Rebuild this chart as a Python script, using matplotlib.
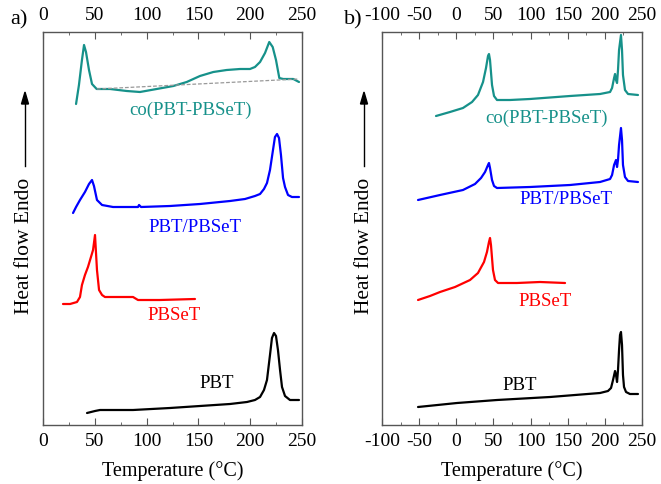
import matplotlib.pyplot as plt
from matplotlib.ticker import MultipleLocator

plt.rcParams['font.family'] = ['Liberation Serif', 'DejaVu Serif']
plt.rcParams['axes.unicode_minus'] = False

# ---- panel a: heating scans ----
a_co_T = [31.9, 34.7, 37.6, 39.6, 41.5, 44.4, 47.3, 51.8, 64.7, 80.8, 93.6, 109.7, 125.8, 138.7,
          151.5, 164.4, 177.3, 190.2, 199.8, 204.6, 209.5, 214.3, 218.4, 221.7, 224.9, 228.1,
          231.9, 241.6, 247.1]
a_co_H = [321, 340, 365, 380, 373, 355, 341, 336, 336, 334, 333, 336, 339, 343,
          349, 353, 355, 356, 356, 358, 363, 372, 383, 378, 365, 347,
          346, 346, 343]
a_co_base_T = [52.0, 247.0]
a_co_base_H = [336, 346]

a_blend_T = [29.0, 31.9, 35.7, 40.5, 44.4, 47.3, 49.2, 52.1, 57.0, 67.6, 91.7, 92.7, 94.6, 122.6,
             151.5, 180.5, 195.0, 204.6, 209.5, 213.3, 216.2, 219.1, 222.0, 223.9, 225.9, 227.8,
             229.7, 231.7, 233.6, 236.5, 240.3, 247.1]
a_blend_H = [212, 218, 225, 233, 241, 245, 239, 225, 220, 218, 218, 220, 218, 219,
             221, 224, 226, 229, 231, 236, 242, 255, 275, 288, 291, 287,
             270, 247, 238, 230, 228, 228]

a_pbset_T = [19.3, 26.1, 32.8, 35.7, 37.6, 40.5, 43.4, 46.3, 48.3, 50.2, 52.1, 54.1, 57.0, 59.8,
             86.9, 91.7, 112.9, 146.7]
a_pbset_H = [121, 121, 123, 128, 140, 150, 158, 168, 175, 190, 155, 135, 130, 128,
             128, 125, 125, 126]

a_pbt_T = [42.5, 50.2, 55.0, 86.9, 122.6, 151.5, 180.5, 196.9, 204.6, 209.5, 213.3, 216.2, 219.1,
           221.0, 223.0, 224.9, 226.8, 228.8, 230.7, 233.6, 238.4, 247.1]
a_pbt_H = [12, 14, 15, 15, 17, 19, 21, 23, 25, 28, 35, 45, 70,
           87, 92, 89, 75, 55, 38, 29, 25, 25]

# ---- panel b: second heating ----
b_co_T = [-27.3, -8.5, 9.0, 21.2, 29.2, 36.0, 40.0, 42.7, 44.0, 45.4, 48.1, 50.8, 54.8, 72.3,
          99.2, 153.1, 193.5, 207.0, 209.7, 212.4, 213.7, 215.0, 216.4, 217.7, 219.1, 221.7,
          223.1, 224.4, 227.1, 231.2, 244.6]
b_co_H = [309, 313, 317, 323, 330, 343, 357, 369, 371, 365, 340, 329, 325, 325,
          326, 329, 331, 333, 337, 347, 351, 345, 342, 355, 375, 390,
          375, 350, 335, 331, 330]

b_blend_T = [-51.5, -21.9, 9.0, 25.2, 33.3, 38.7, 42.7, 44.0, 45.4, 48.1, 50.8, 54.8, 99.2, 153.1,
             193.5, 207.0, 209.7, 212.4, 215.0, 216.4, 217.7, 219.1, 221.7, 223.1, 224.4, 227.1,
             231.2, 244.6]
b_blend_H = [225, 230, 235, 241, 247, 253, 260, 262, 257, 245, 239, 237, 238, 240,
             243, 246, 250, 260, 265, 258, 265, 280, 297, 285, 260, 248,
             244, 243]

b_pbset_T = [-51.5, -35.4, -21.9, -1.7, 18.5, 29.2, 37.3, 41.3, 44.0, 45.4, 46.7, 49.4, 52.1, 56.2,
             81.7, 112.7, 146.4]
b_pbset_H = [125, 129, 133, 138, 145, 152, 163, 173, 183, 187, 180, 155, 145, 142,
             142, 143, 142]

b_pbt_T = [-51.5, 1.0, 54.8, 126.2, 193.5, 204.2, 208.3, 211.0, 213.7, 215.0, 216.4, 217.7, 219.1,
           220.4, 221.7, 223.1, 224.4, 225.8, 228.5, 233.8, 244.6]
b_pbt_H = [18, 22, 25, 28, 32, 34, 37, 45, 54, 50, 43, 55, 75,
           90, 93, 80, 50, 38, 33, 31, 31]

TEAL = '#16918a'
BLUE = '#0000ff'
RED = '#ff0000'
SPINE = '#555555'

fig = plt.figure(figsize=(6.61, 4.84), dpi=100)
ax_a = fig.add_axes([43 / 661, 59 / 484, 259 / 661, 393 / 484])
ax_b = fig.add_axes([382 / 661, 59 / 484, 260 / 661, 393 / 484])

kw = dict(lw=1.6, solid_joinstyle='round', solid_capstyle='round')
ax_a.plot(a_co_T, a_co_H, color=TEAL, **kw)
ax_a.plot(a_co_base_T, a_co_base_H, color='#999999', lw=0.9, ls=(0, (3, 1.5)))
ax_a.plot(a_blend_T, a_blend_H, color=BLUE, **kw)
ax_a.plot(a_pbset_T, a_pbset_H, color=RED, **kw)
ax_a.plot(a_pbt_T, a_pbt_H, color='black', **kw)

ax_b.plot(b_co_T, b_co_H, color=TEAL, **kw)
ax_b.plot(b_blend_T, b_blend_H, color=BLUE, **kw)
ax_b.plot(b_pbset_T, b_pbset_H, color=RED, **kw)
ax_b.plot(b_pbt_T, b_pbt_H, color='black', **kw)

fs = 13.5
ax_a.text(142, 315, 'co(PBT-PBSeT)', color=TEAL, fontsize=fs, ha='center', va='center')
ax_a.text(147, 197, 'PBT/PBSeT', color=BLUE, fontsize=fs, ha='center', va='center')
ax_a.text(127, 109, 'PBSeT', color=RED, fontsize=fs, ha='center', va='center')
ax_a.text(168, 42, 'PBT', color='black', fontsize=fs, ha='center', va='center')

ax_b.text(122, 307, 'co(PBT-PBSeT)', color=TEAL, fontsize=fs, ha='center', va='center')
ax_b.text(148, 225, 'PBT/PBSeT', color=BLUE, fontsize=fs, ha='center', va='center')
ax_b.text(119, 123, 'PBSeT', color=RED, fontsize=fs, ha='center', va='center')
ax_b.text(86, 40, 'PBT', color='black', fontsize=fs, ha='center', va='center')

for ax, xmin in [(ax_a, 0), (ax_b, -100)]:
    ax.set_xlim(xmin, 250)
    ax.set_ylim(0, 393)
    ax.xaxis.set_major_locator(MultipleLocator(50))
    ax.xaxis.set_minor_locator(MultipleLocator(25))
    ax.tick_params(axis='x', which='both', direction='in', top=True, bottom=True,
                   labeltop=True, labelbottom=True, labelsize=14, color=SPINE, pad=6)
    ax.tick_params(axis='x', which='major', length=5)
    ax.tick_params(axis='x', which='minor', length=2.5)
    ax.set_yticks([])
    for s in ax.spines.values():
        s.set_color(SPINE)
        s.set_linewidth(1.0)
    ax.set_xlabel('Temperature (\u00b0C)', fontsize=14.5, labelpad=8)

fig.text(10 / 661, 1 - 20 / 484, 'a)', fontsize=16, ha='left', va='center')
fig.text(344 / 661, 1 - 20 / 484, 'b)', fontsize=16, ha='left', va='center')

# y labels with an arrow pointing towards endotherm
for xpix in (25, 364):
    fig.text(xpix / 661, 1 - 246 / 484, 'Heat flow Endo', rotation=90, fontsize=15.5,
             ha='center', va='center')
    fig.add_artist(plt.Line2D([xpix / 661, xpix / 661], [1 - 166 / 484, 1 - 102 / 484],
                              color='black', lw=1.0, transform=fig.transFigure))
    fig.patches.append(plt.Polygon([[xpix / 661 - 3.5 / 661, 1 - 104 / 484],
                                    [xpix / 661 + 3.5 / 661, 1 - 104 / 484],
                                    [xpix / 661, 1 - 92 / 484]],
                                   closed=True, color='black', transform=fig.transFigure))

fig.savefig('out.png', dpi=100)
